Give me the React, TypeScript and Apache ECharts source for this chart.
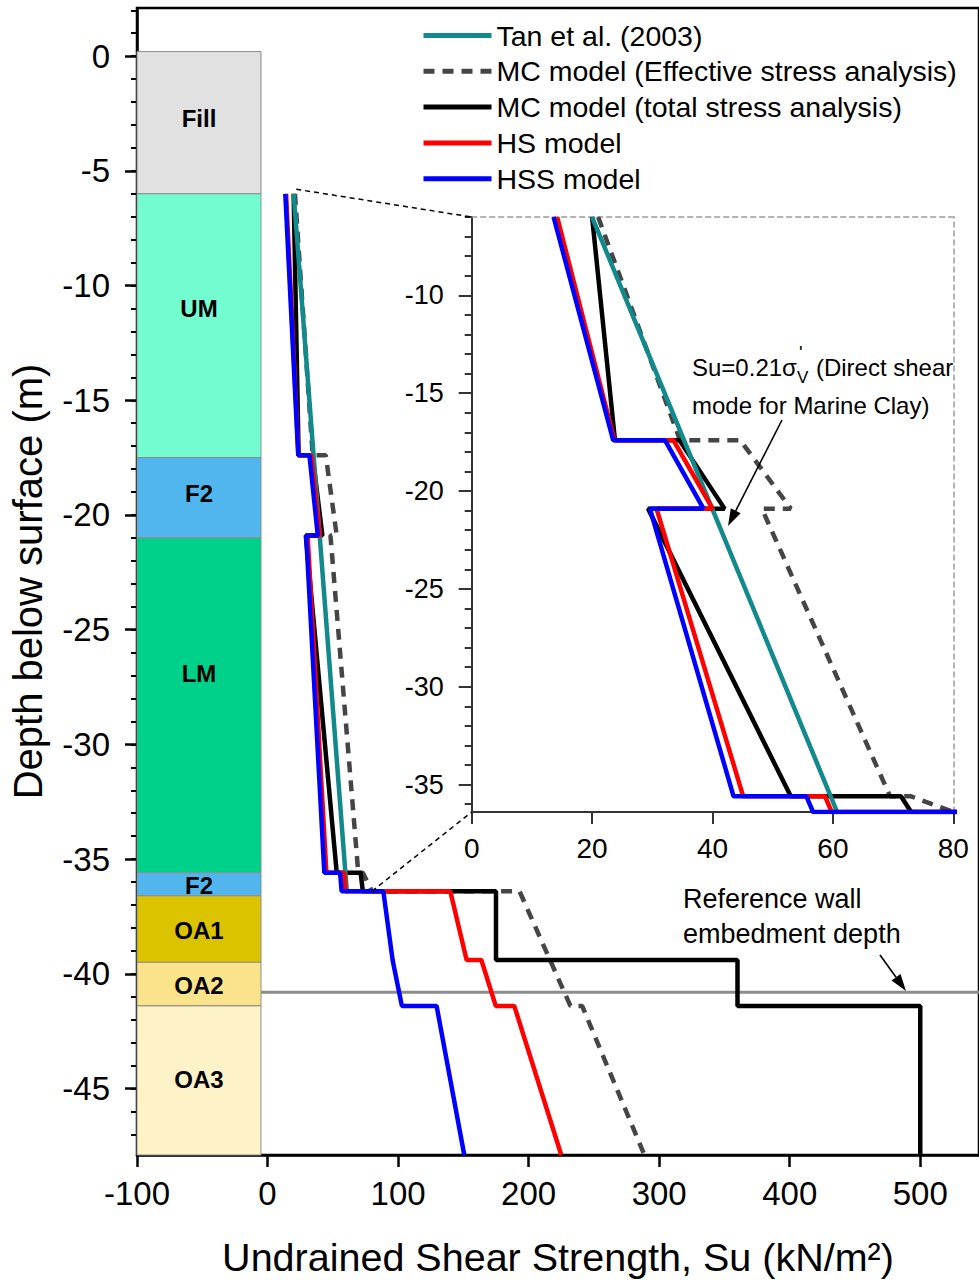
import React, { useEffect, useRef } from 'react';
import * as echarts from 'echarts';

const FONT = '"Liberation Sans", Arial, Helvetica, sans-serif';

// ---------------- data ----------------
const seriesNames = [
  'Tan et al. (2003)',
  'MC model (Effective stress analysis)',
  'MC model (total stress analysis)',
  'HS model',
  'HSS model',
];

// [Su (kN/m2), depth (m)]
const tanEtAl2003 = [[20, -6], [60.7, -36.4]];
const mcEffective = [
  [21, -6], [34.6, -17.4], [44.6, -17.4], [53, -20.9], [48.2, -20.9], [69.5, -35.6], [73, -35.6],
  [80, -36.4], [193, -36.4], [232, -41.4], [241, -41.4], [288.7, -47.9],
];
const mcTotal = [
  [20, -6], [23.8, -17.4], [34.5, -17.4], [42, -20.9], [29.3, -20.9], [53, -35.6], [71.3, -35.6],
  [73, -36.4], [175, -36.4], [175, -39.4], [360, -39.4], [360, -41.4], [500, -41.4], [500, -47.9],
];
const hsModel = [
  [14.2, -6], [23.7, -17.4], [33.5, -17.4], [40, -20.9], [30.7, -20.9], [45.1, -35.6], [58.7, -35.6],
  [59.8, -36.4], [140, -36.4], [152.5, -39.4], [163.8, -39.4], [174.8, -41.4], [189, -41.4], [225, -47.9],
];
const hssModel = [
  [13.6, -6], [23.5, -17.4], [32.1, -17.4], [38.5, -20.9], [29.6, -20.9], [43.5, -35.6], [55.6, -35.6],
  [56.7, -36.4], [88.7, -36.4], [95.8, -39.4], [102.9, -41.4], [129.5, -41.4], [150.7, -47.9],
];

const layerNames = ['Fill', 'UM', 'F2', 'LM', 'F2', 'OA1', 'OA2', 'OA3'];
const layerTops = [0.2, -6, -17.5, -21, -35.6, -36.6, -39.5, -41.4];
const layerBottoms = [-6, -17.5, -21, -35.6, -36.6, -39.5, -41.4, -47.9];
const layerLabelDepths = [-2.7, -11, -19.05, -26.9, -36.15, -38.1, -40.5, -44.6];
const layerColumnX = [-100, -5];
const embedmentDepth = -40.8;

const mainXTicks = [-100, 0, 100, 200, 300, 400, 500];
const mainYLabels = [0, -5, -10, -15, -20, -25, -30, -35, -40, -45];
const insetXTicks = [0, 20, 40, 60, 80];
const insetYLabels = [-10, -15, -20, -25, -30, -35];

// ---------------- styles ----------------
const layerColors = ['#e1e1e1', '#74fcd1', '#52b6ee', '#00d18a', '#52b6ee', '#dbc300', '#fbe38b', '#fdf2c8'];
const seriesColors = ['#12898a', '#454545', '#000000', '#ff0000', '#0000ff'];
const seriesData = [tanEtAl2003, mcEffective, mcTotal, hsModel, hssModel];
const drawOrder = [1, 2, 0, 3, 4];

const MAIN_X_MIN = -100, MAIN_X_MAX = 545, MAIN_Y_MIN = -47.9, MAIN_Y_MAX = 2.1;
const INSET_X_MIN = 0, INSET_X_MAX = 80, INSET_Y_MIN = -36.4, INSET_Y_MAX = -6;

const mainYMinor = Array.from({ length: 50 }, (_, k) => 2 - k);
const insetYMinor = Array.from({ length: 31 }, (_, k) => -6 - k);

function lineStyleFor(i: number) {
  return {
    color: seriesColors[i],
    width: 4.5,
    type: i === 1 ? [11, 8] : 'solid',
  };
}

function buildOption(): any {
  const black = { color: '#000', fontFamily: FONT };
  const mainSeries = drawOrder.map((i) => ({
    type: 'line',
    name: seriesNames[i],
    xAxisIndex: 0,
    yAxisIndex: 0,
    data: seriesData[i],
    symbol: 'none',
    lineStyle: lineStyleFor(i),
    itemStyle: { color: seriesColors[i] },
    z: 3,
  }));
  const insetSeries = drawOrder.map((i) => ({
    type: 'line',
    name: seriesNames[i],
    xAxisIndex: 1,
    yAxisIndex: 2,
    data: seriesData[i],
    symbol: 'none',
    clip: true,
    lineStyle: lineStyleFor(i),
    itemStyle: { color: seriesColors[i] },
    z: 3,
  }));

  return {
    animation: false,
    backgroundColor: '#fff',
    textStyle: { fontFamily: FONT },
    legend: {
      orient: 'vertical',
      left: 421,
      top: 21,
      padding: 0,
      itemWidth: 68,
      itemHeight: 14,
      itemGap: 6.8,
      itemTextGap: 7,
      selectedMode: false,
      itemStyle: { opacity: 0 },
      lineStyle: { width: 5 },
      textStyle: { fontSize: 28.5, ...black },
      data: seriesNames,
    },
    grid: [
      { left: 135, top: 8, width: 848, height: 1147, show: true, borderColor: '#000', borderWidth: 2.5, backgroundColor: 'transparent' },
      { left: 471.7, top: 217, width: 481.6, height: 595 },
    ],
    xAxis: [
      {
        gridIndex: 0, type: 'value', position: 'bottom', min: MAIN_X_MIN, max: MAIN_X_MAX, interval: 100,
        axisLine: { onZero: false, lineStyle: { color: '#000', width: 2.5 } },
        axisTick: { length: 12, customValues: mainXTicks, lineStyle: { color: '#000', width: 2.5 } },
        axisLabel: { customValues: mainXTicks, fontSize: 33, margin: 22, ...black },
        splitLine: { show: false },
        name: 'Undrained Shear Strength, Su (kN/m²)', nameLocation: 'middle', nameGap: 82,
        nameTextStyle: { fontSize: 39.5, ...black },
      },
      {
        gridIndex: 1, type: 'value', position: 'bottom', min: INSET_X_MIN, max: INSET_X_MAX, interval: 20,
        axisLine: { onZero: false, lineStyle: { color: '#333', width: 2 } },
        axisTick: { length: 12, customValues: insetXTicks, lineStyle: { color: '#333', width: 2 } },
        axisLabel: { customValues: insetXTicks, fontSize: 28, margin: 22, ...black },
        splitLine: { show: false },
      },
      {
        gridIndex: 1, type: 'value', position: 'top', min: INSET_X_MIN, max: INSET_X_MAX,
        axisLine: { onZero: false, lineStyle: { color: '#9a9a9a', width: 1.5, type: [5, 4] } },
        axisTick: { show: false }, axisLabel: { show: false }, splitLine: { show: false },
      },
    ],
    yAxis: [
      {
        gridIndex: 0, type: 'value', position: 'left', min: MAIN_Y_MIN, max: MAIN_Y_MAX,
        axisLine: { onZero: false, lineStyle: { color: '#000', width: 2.5 } },
        axisTick: { length: 12, customValues: mainYLabels, lineStyle: { color: '#000', width: 2.5 } },
        axisLabel: { customValues: mainYLabels, fontSize: 33, margin: 27, ...black },
        splitLine: { show: false },
        name: 'Depth below surface (m)', nameLocation: 'middle', nameGap: 89,
        nameTextStyle: { fontSize: 40, ...black },
      },
      {
        gridIndex: 0, type: 'value', position: 'left', min: MAIN_Y_MIN, max: MAIN_Y_MAX,
        axisLine: { show: false, onZero: false },
        axisTick: { length: 6, customValues: mainYMinor, lineStyle: { color: '#000', width: 2 } },
        axisLabel: { show: false }, splitLine: { show: false },
      },
      {
        gridIndex: 1, type: 'value', position: 'left', min: INSET_Y_MIN, max: INSET_Y_MAX,
        axisLine: { onZero: false, lineStyle: { color: '#333', width: 2 } },
        axisTick: { length: 13, customValues: insetYLabels, lineStyle: { color: '#333', width: 2 } },
        axisLabel: { customValues: insetYLabels, fontSize: 27, margin: 28, ...black },
        splitLine: { show: false },
      },
      {
        gridIndex: 1, type: 'value', position: 'left', min: INSET_Y_MIN, max: INSET_Y_MAX,
        axisLine: { show: false, onZero: false },
        axisTick: { length: 7, customValues: insetYMinor, lineStyle: { color: '#333', width: 2 } },
        axisLabel: { show: false }, splitLine: { show: false },
      },
      {
        gridIndex: 1, type: 'value', position: 'right', min: INSET_Y_MIN, max: INSET_Y_MAX,
        axisLine: { onZero: false, lineStyle: { color: '#9a9a9a', width: 1.5, type: [5, 4] } },
        axisTick: { show: false }, axisLabel: { show: false }, splitLine: { show: false },
      },
    ],
    series: [
      {
        type: 'custom',
        name: 'layers',
        xAxisIndex: 0,
        yAxisIndex: 0,
        silent: true,
        z: 1,
        data: layerNames.map((_, i) => [layerTops[i], layerBottoms[i], layerLabelDepths[i], i]),
        renderItem: (params: any, api: any) => {
          const i = api.value(3);
          const p0 = api.coord([layerColumnX[0], api.value(0)]);
          const p1 = api.coord([layerColumnX[1], api.value(1)]);
          const pl = api.coord([(layerColumnX[0] + layerColumnX[1]) / 2, api.value(2)]);
          return {
            type: 'group',
            children: [
              {
                type: 'rect',
                shape: { x: p0[0], y: p0[1], width: p1[0] - p0[0], height: p1[1] - p0[1] },
                style: { fill: layerColors[i], stroke: '#8c8c8c', lineWidth: 1 },
              },
              {
                type: 'text',
                style: {
                  text: layerNames[i], x: pl[0], y: pl[1], align: 'center', verticalAlign: 'middle',
                  fontSize: 24, fontWeight: 'bold', fontFamily: FONT, fill: '#000',
                },
              },
            ],
          };
        },
      },
      {
        type: 'line',
        name: 'embedment',
        xAxisIndex: 0,
        yAxisIndex: 0,
        data: [[layerColumnX[1], embedmentDepth], [MAIN_X_MAX, embedmentDepth]],
        symbol: 'none',
        silent: true,
        lineStyle: { color: '#8c8c8c', width: 3 },
        z: 2,
      },
      ...mainSeries,
      ...insetSeries,
    ],
  };
}

function arrow(x1: number, y1: number, x2: number, y2: number, len = 17, half = 5.5): any[] {
  const dx = x2 - x1, dy = y2 - y1;
  const d = Math.hypot(dx, dy);
  const ux = dx / d, uy = dy / d;
  const bx = x2 - ux * len, by = y2 - uy * len;
  const nx = -uy, ny = ux;
  return [
    { type: 'line', shape: { x1, y1, x2: bx, y2: by }, style: { stroke: '#000', lineWidth: 1.6 }, z: 10 },
    {
      type: 'polygon',
      shape: { points: [[x2, y2], [bx + nx * half, by + ny * half], [bx - nx * half, by - ny * half]] },
      style: { fill: '#000' },
      z: 10,
    },
  ];
}

function measure(text: string, size: number): number {
  const c = document.createElement('canvas').getContext('2d');
  if (!c) return text.length * size * 0.55;
  c.font = `${size}px "Liberation Sans", Arial, sans-serif`;
  return c.measureText(text).width;
}

function buildGraphic(chart: any): any[] {
  const a1 = chart.convertToPixel({ seriesIndex: 2 }, [22, -5.8]);
  const b1 = chart.convertToPixel({ seriesIndex: 7 }, [INSET_X_MIN, INSET_Y_MAX]);
  const a2 = chart.convertToPixel({ seriesIndex: 2 }, [80, -36.4]);
  const b2 = chart.convertToPixel({ seriesIndex: 7 }, [INSET_X_MIN, INSET_Y_MIN]);
  const dashStyle = { stroke: '#000', lineWidth: 1.5, lineDash: [5, 4] };

  const txt = (x: number, y: number, text: string, size: number, extra: any = {}) => ({
    type: 'text', x, y, z: 10,
    style: { text, fontSize: size, fontFamily: FONT, fill: '#000', align: 'left', verticalAlign: 'middle', ...extra },
  });

  const x0 = 692;
  const w1 = measure('Su=0.21σ', 24);
  const wv = measure('V', 17);

  return [
    { type: 'line', shape: { x1: a1[0], y1: a1[1], x2: b1[0], y2: b1[1] }, style: dashStyle, z: 5 },
    { type: 'line', shape: { x1: a2[0], y1: a2[1], x2: b2[0], y2: b2[1] }, style: dashStyle, z: 5 },
    txt(x0, 367, 'Su=0.21σ', 24),
    txt(x0 + w1 + 2, 352, "'", 19),
    txt(x0 + w1, 377, 'V', 17),
    txt(x0 + w1 + wv + 1, 367, ' (Direct shear', 24),
    txt(x0, 405, 'mode for Marine Clay)', 24),
    ...arrow(782, 420, 728, 526),
    {
      type: 'text', x: 683, y: 881, z: 10,
      style: { text: 'Reference wall\nembedment depth', fontSize: 27, lineHeight: 35, fontFamily: FONT, fill: '#000', align: 'left', verticalAlign: 'top' },
    },
    ...arrow(880, 955, 906, 991),
  ];
}

export default function App() {
  const ref = useRef<HTMLDivElement>(null);
  useEffect(() => {
    if (!ref.current) return;
    const chart = echarts.init(ref.current, null, { renderer: 'svg' });
    chart.setOption(buildOption());
    chart.setOption({ graphic: buildGraphic(chart) });
    return () => chart.dispose();
  }, []);
  return (
    <div
      ref={ref}
      style={{ position: 'absolute', left: 0, top: 0, width: 979, height: 1284, background: '#fff' }}
    />
  );
}
